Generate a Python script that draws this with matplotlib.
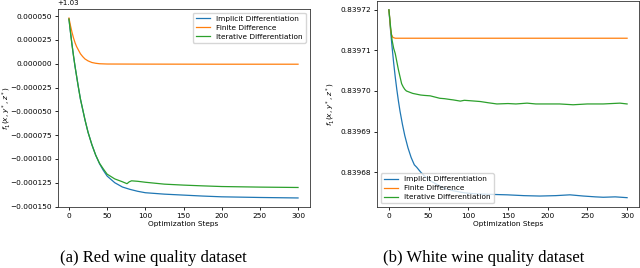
import matplotlib
matplotlib.use("Agg")
import matplotlib.pyplot as plt

# red wine, values are f - 1.03 in units of 1e-6
red_imp_x = [0, 2, 4, 6, 8, 10, 12, 15, 18, 21, 25, 30, 35, 40, 45, 50, 60, 70, 80, 90,
             100, 125, 150, 175, 200, 250, 300]
red_imp_y = [47, 33, 20, 8, -3, -13, -23, -37, -48, -59, -72, -85, -96, -105, -112, -118,
             -125, -129.5, -132, -134, -135.5, -137, -138, -139, -139.8, -140.5, -141]

red_fd_x = [0, 2, 4, 6, 8, 10, 12, 15, 18, 21, 25, 30, 35, 40, 50, 100, 200, 300]
red_fd_y = [48, 40, 33, 27, 22, 18, 15, 10.5, 7.5, 5, 3, 1.3, 0.5, 0, -0.3, -0.4, -0.5, -0.5]

red_it_x = [0, 2, 4, 6, 8, 10, 12, 15, 18, 21, 25, 30, 35, 40, 45, 50, 60, 70, 76, 79,
            82, 90, 100, 125, 150, 175, 200, 250, 300]
red_it_y = [47, 33, 20, 8, -3, -13, -23, -37, -48, -59, -72, -85, -96, -104.5, -110.5,
            -116, -121, -124, -126, -124, -123, -123.5, -124.5, -126.5, -127.5, -128.3,
            -129, -129.6, -130]

# white wine
white_imp_x = [0, 2, 4, 6, 8, 10, 12, 14, 17, 20, 24, 28, 32, 35, 40, 45, 52, 60, 70, 81,
               95, 111, 130, 149, 170, 190, 210, 228, 245, 260, 270, 285, 300]
white_imp_y = [0.8397200, 0.8397151, 0.8397108, 0.8397069, 0.8397034, 0.8397003,
               0.8396975, 0.8396950, 0.8396918, 0.8396890, 0.8396860, 0.8396836,
               0.8396818, 0.8396812, 0.8396800, 0.8396790, 0.8396779, 0.8396770,
               0.8396760, 0.8396754, 0.8396749, 0.8396746, 0.8396745, 0.8396744,
               0.8396742, 0.8396741, 0.8396742, 0.8396744, 0.8396741, 0.8396739,
               0.8396738, 0.8396739, 0.8396737]

white_fd_x = [0, 1, 2, 3, 5, 8, 300]
white_fd_y = [0.8397200, 0.8397180, 0.8397155, 0.8397140, 0.8397132, 0.8397130, 0.8397130]

white_it_x = [0, 2, 4, 6, 8, 10, 12, 14, 16, 18, 20, 22, 26, 30, 35, 40, 45, 52, 58, 64,
              70, 77, 81, 90, 95, 102, 115, 125, 136, 150, 160, 174, 185, 200, 215, 232,
              250, 270, 291, 300]
white_it_y = [0.8397200, 0.8397160, 0.8397125, 0.8397105, 0.8397092, 0.8397072,
              0.8397052, 0.8397035, 0.8397018, 0.8397010, 0.8397004, 0.8397000,
              0.8396997, 0.8396994, 0.8396992, 0.8396990, 0.8396989, 0.8396988,
              0.8396985, 0.8396982, 0.8396981, 0.8396979, 0.8396978, 0.8396975,
              0.8396977, 0.8396976, 0.8396974, 0.8396971, 0.8396968, 0.8396969,
              0.8396968, 0.8396970, 0.8396968, 0.8396968, 0.8396968, 0.8396966,
              0.8396968, 0.8396968, 0.8396970, 0.8396968]

labels = ["Implicit Differentiation", "Finite Difference", "Iterative Differentiation"]
captions = ["(a) Red wine quality dataset", "(b) White wine quality dataset"]

fs = 5.3
plt.rcParams.update({
    "font.size": fs,
    "axes.linewidth": 0.6,
    "xtick.major.size": 2,
    "ytick.major.size": 2,
    "xtick.major.width": 0.6,
    "ytick.major.width": 0.6,
    "xtick.major.pad": 2,
    "ytick.major.pad": 2,
})

fig = plt.figure(figsize=(6.4, 2.68), dpi=100)
W, H = 640, 268

def px_axes(l, t, r, b):
    return fig.add_axes([l / W, 1 - b / H, (r - l) / W, (b - t) / H])

ax1 = px_axes(57.5, 9, 309.5, 207)
ax2 = px_axes(377, 0.5, 639, 207)

lw = 0.9
ax1.plot(red_imp_x, [1.03 + v * 1e-6 for v in red_imp_y], lw=lw, label=labels[0])
ax1.plot(red_fd_x, [1.03 + v * 1e-6 for v in red_fd_y], lw=lw, label=labels[1])
ax1.plot(red_it_x, [1.03 + v * 1e-6 for v in red_it_y], lw=lw, label=labels[2])
ax1.set_xlim(-15, 315)
ax1.set_ylim(1.03 - 0.0001505, 1.03 + 0.0000575)
ax1.legend(loc="upper right", fontsize=fs, handlelength=2, borderpad=0.4,
           labelspacing=0.4, framealpha=0.8)
ax1.yaxis.get_offset_text().set_fontsize(5)

ax2.plot(white_imp_x, white_imp_y, lw=lw, label=labels[0])
ax2.plot(white_fd_x, white_fd_y, lw=lw, label=labels[1])
ax2.plot(white_it_x, white_it_y, lw=lw, label=labels[2])
ax2.set_xlim(-15, 315)
ax2.set_ylim(0.8396714, 0.8397223)
ax2.legend(loc="lower left", fontsize=fs, handlelength=2, borderpad=0.4,
           labelspacing=0.4, framealpha=0.8)

for ax in (ax1, ax2):
    ax.set_xticks([0, 50, 100, 150, 200, 250, 300])
    ax.set_xlabel("Optimization Steps", labelpad=1.5)
    ax.set_ylabel(r"$f_1(x, y^*, z^*)$")
    for s in ax.spines.values():
        s.set_color("#333333")

ax1.yaxis.set_label_coords(-0.175, 0.5)
ax2.yaxis.set_label_coords(-0.152, 0.5)
ax2.set_yticks([0.83968, 0.83969, 0.83970, 0.83971, 0.83972])

fig.text(153 / W, 1 - 258 / H, captions[0], ha="center", va="center",
         family="Liberation Serif", fontsize=12)
fig.text(484 / W, 1 - 258 / H, captions[1], ha="center", va="center",
         family="Liberation Serif", fontsize=12)

fig.savefig("out.png", dpi=100)
